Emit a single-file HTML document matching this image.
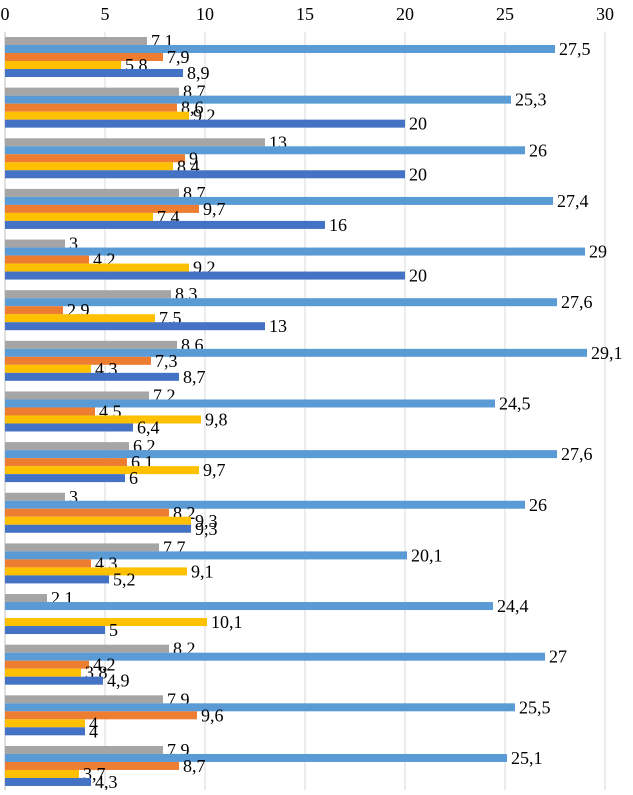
<!DOCTYPE html>
<html><head><meta charset="utf-8"><style>
html,body{margin:0;padding:0;background:#fff;}
svg text{font-family:"Liberation Serif",serif;font-size:18px;fill:#000;}
</style></head><body>
<svg id="chart" width="633" height="790" xmlns="http://www.w3.org/2000/svg"></svg>
<script>
const ticks = [0,5,10,15,20,25,30];
const grayVals   = [7.1,8.7,13,8.7,3,8.3,8.6,7.2,6.2,3,7.7,2.1,8.2,7.9,7.9];
const lblueVals  = [27.5,25.3,26,27.4,29,27.6,29.1,24.5,27.6,26,20.1,24.4,27,25.5,25.1];
const orangeVals = [7.9,8.6,9,9.7,4.2,2.9,7.3,4.5,6.1,8.2,4.3,null,4.2,9.6,8.7];
const yellowVals = [5.8,9.2,8.4,7.4,9.2,7.5,4.3,9.8,9.7,9.3,9.1,10.1,3.8,4,3.7];
const blueVals   = [8.9,20,20,16,20,13,8.7,6.4,6,9.3,5.2,5,4.9,4,4.3];
const seriesList = [
 {name:'gray',vals:grayVals,color:'#A5A5A5'},
 {name:'light-blue',vals:lblueVals,color:'#5B9BD5'},
 {name:'orange',vals:orangeVals,color:'#ED7D31'},
 {name:'yellow',vals:yellowVals,color:'#FFC000'},
 {name:'blue',vals:blueVals,color:'#4472C4'}
];
const NS='http://www.w3.org/2000/svg';
const svgEl=document.getElementById('chart');
const x0=5, pxPer=20, plotTop=31.7, band=50.64, barH=8, pad=5.3;
const xs=v=>x0+v*pxPer;
function mk(t,a){const e=document.createElementNS(NS,t);for(const k in a)e.setAttribute(k,a[k]);svgEl.appendChild(e);return e;}
ticks.forEach(t=>{
  const g=mk('line',{x1:xs(t),x2:xs(t),y1:plotTop,y2:790,stroke:t===0?'#bfbfbf':'#d9d9d9','stroke-width':1});
  
  
  const tx=mk('text',{x:xs(t),y:20,'text-anchor':'middle'});
  tx.textContent=t;
  
  
});
const n=grayVals.length;
for(let i=0;i<n;i++){
  seriesList.forEach((s,j)=>{
    const v=s.vals[i];
    if(v===null||v===undefined)return;
    const y=plotTop+i*band+pad+j*barH;
    const r=mk('rect',{x:xs(0),y:y,width:xs(v)-xs(0),height:barH,fill:s.color});
    
    
    const l=mk('text',{x:xs(v)+4,y:y+barH/2+6});
    l.textContent=String(v).replace('.',',');
    
    
  });
}
</script>
</body></html>
